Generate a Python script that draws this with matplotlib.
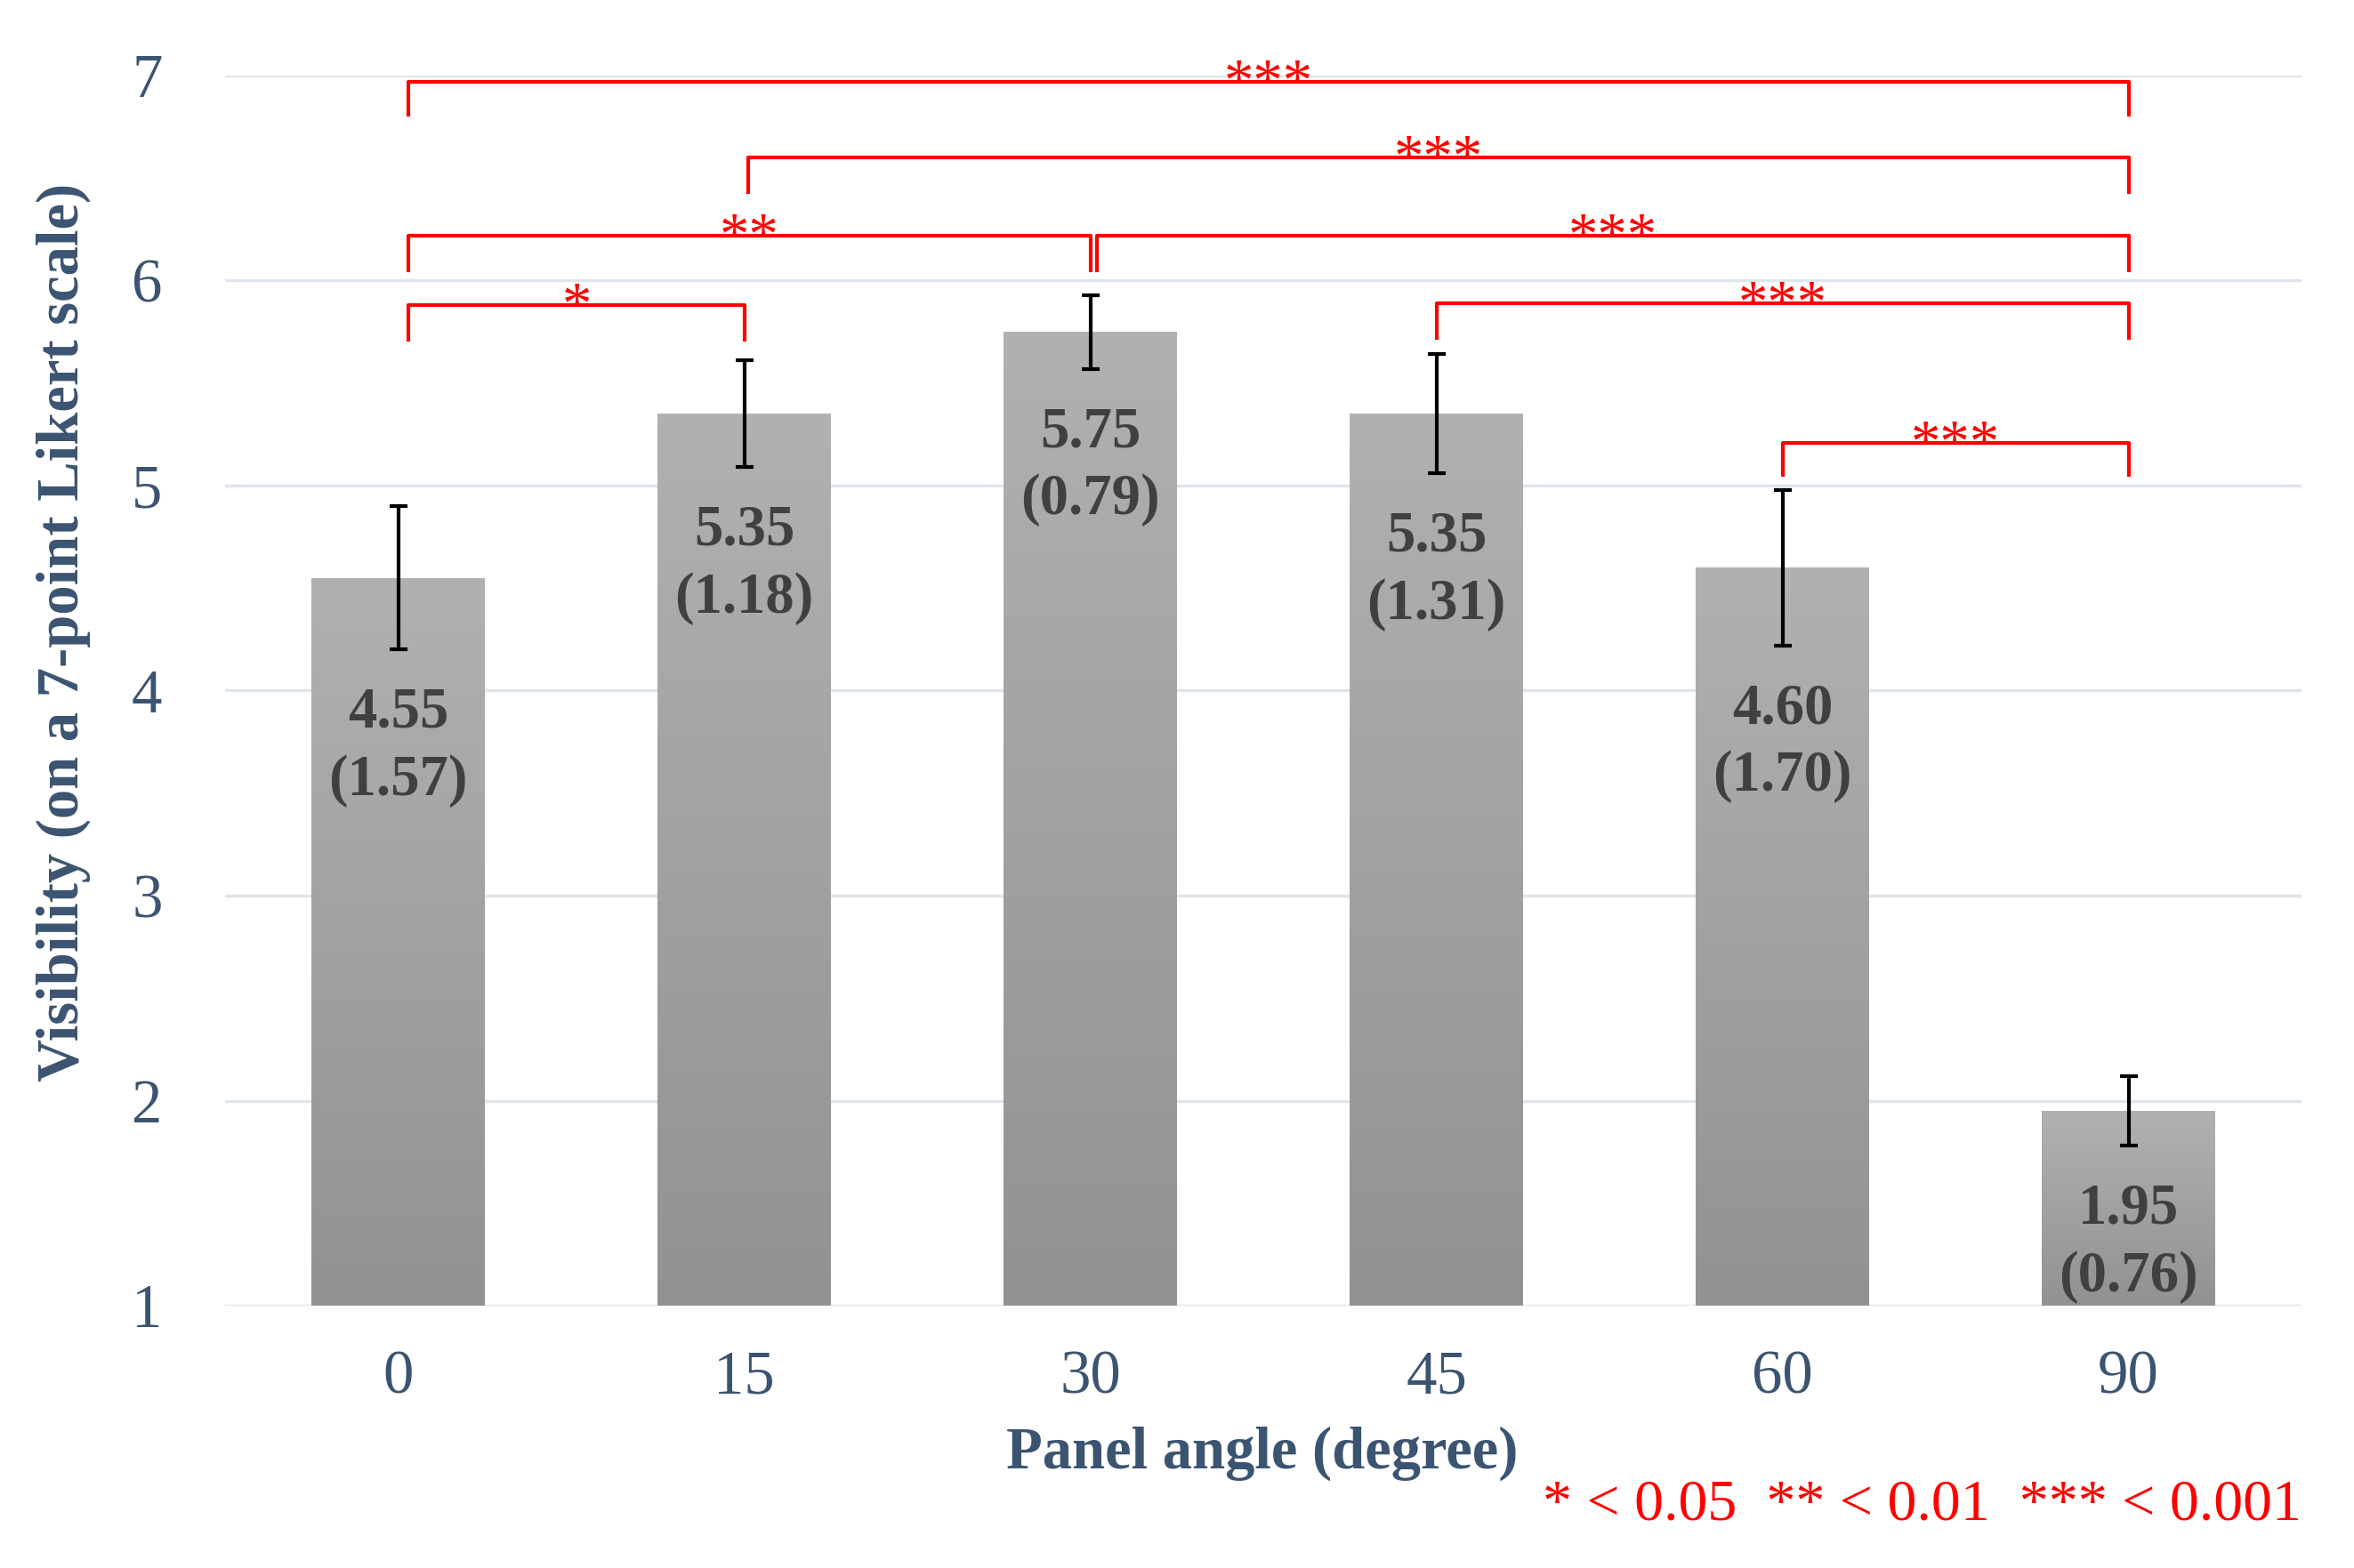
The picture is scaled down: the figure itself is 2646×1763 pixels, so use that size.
import matplotlib.pyplot as plt
import numpy as np
from matplotlib.colors import LinearSegmentedColormap

plt.rcParams['font.family'] = ['Liberation Serif', 'DejaVu Serif']

# data
angles = ['0', '15', '30', '45', '60', '90']
means = [4.55, 5.35, 5.75, 5.35, 4.60, 1.95]
sds = [1.57, 1.18, 0.79, 1.31, 1.70, 0.76]
errs = [0.35, 0.26, 0.18, 0.29, 0.38, 0.17]

# significance brackets (bar positions, heights, stars)
br_left = [0.03, 1.01, 0.03, 2.02, 0.03, 3.0, 4.0]
br_right = [5, 5, 2, 5, 1, 5, 5]
br_top = [6.97, 6.60, 6.22, 6.22, 5.88, 5.89, 5.21]
br_leg = [6.81, 6.43, 6.05, 6.05, 5.71, 5.72, 5.05]
br_stars = ['***', '***', '**', '***', '*', '***', '***']

text_col = '#3b5471'
grid_col = '#dfe5ec'
red = '#ff0000'

fig = plt.figure(figsize=(8.82, 5.877), dpi=300)
ax = fig.add_axes([0.0957, 0.1673, 0.882, 0.7845])

x = np.arange(len(angles))
bars = ax.bar(x, np.array(means) - 1, bottom=1, width=0.5, color='none',
              edgecolor='none', zorder=2)

# gradient fill per bar (light top, darker bottom)
cmap = LinearSegmentedColormap.from_list('g', ['#929292', '#b1b1b1'])
grad = np.linspace(0, 1, 256).reshape(-1, 1)
for b in bars:
    bx, by = b.get_x(), b.get_y()
    im = ax.imshow(grad, extent=[bx, bx + b.get_width(), by, by + b.get_height()],
                   cmap=cmap, aspect='auto', origin='lower', zorder=2)
    im.set_clip_path(b)

ax.errorbar(x, means, yerr=errs, fmt='none', ecolor='black', elinewidth=1.0,
            capsize=2.3, capthick=1.0, zorder=3)

for i in range(len(angles)):
    ax.annotate('%.2f\n(%.2f)' % (means[i], sds[i]), xy=(i, means[i] - errs[i]),
                xytext=(0, -26.3), textcoords='offset points', ha='center',
                va='center', fontsize=15.5, fontweight='bold', color='#404040',
                linespacing=1.35, zorder=4)

for l, r, t, g, s in zip(br_left, br_right, br_top, br_leg, br_stars):
    ax.plot([l, l, r, r], [g, t, t, g], color=red, lw=1.0, clip_on=False, zorder=4)
    ax.annotate(s, xy=((l + r) / 2, t), xytext=(0, -4.8), textcoords='offset points',
                ha='center', va='baseline', fontsize=16, color=red,
                annotation_clip=False)

ax.set_xlim(-0.5, 5.5)
ax.set_ylim(1, 7)
ax.set_xticks(x)
ax.set_xticklabels(angles)
ax.set_yticks(range(1, 8))
ax.yaxis.grid(True, color=grid_col, lw=0.8)
ax.set_axisbelow(True)
for sp in ax.spines.values():
    sp.set_visible(False)
ax.tick_params(axis='both', length=0, labelsize=16.5, labelcolor=text_col)
ax.tick_params(axis='y', pad=17)
ax.tick_params(axis='x', pad=12)

fig.text(0.0268, 0.5967, 'Visibility (on a 7-point Likert scale)', rotation=90,
         ha='center', va='center', fontsize=16, fontweight='bold', color=text_col)
fig.text(0.536, 0.0732, 'Panel angle (degree)', ha='center', va='center',
         fontsize=16, fontweight='bold', color=text_col)
fig.text(0.9777, 0.0397, '* < 0.05  ** < 0.01  *** < 0.001', ha='right',
         va='center', fontsize=15.8, color=red)

fig.savefig('out.png', dpi=300)
